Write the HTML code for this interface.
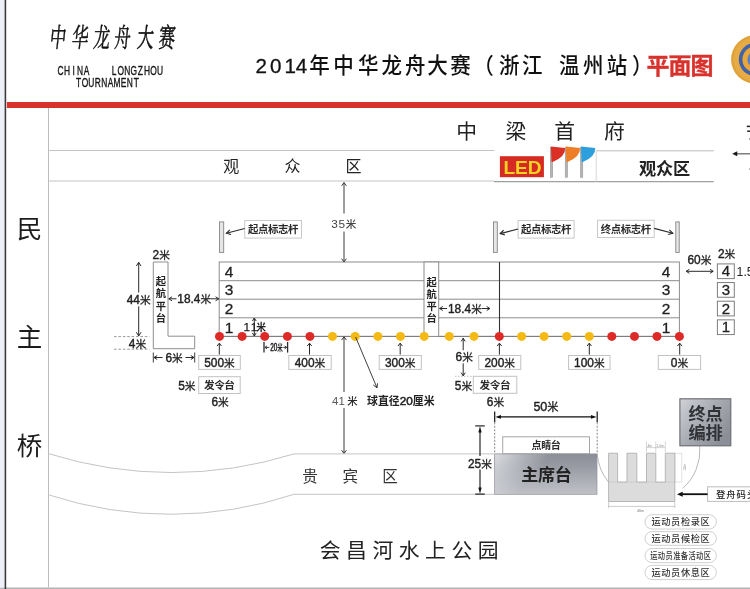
<!DOCTYPE html>
<html lang="zh"><head><meta charset="utf-8"><title>2014年中华龙舟大赛（浙江 温州站）平面图</title><style>html,body{margin:0;padding:0;background:#fff;overflow:hidden}body{width:750px;height:589px;font-family:"Liberation Sans","Noto Sans CJK SC",sans-serif}svg{display:block;will-change:transform}</style></head><body><svg width="750" height="589" viewBox="0 0 750 589" font-family="'Liberation Sans', 'Noto Sans CJK SC', sans-serif"><rect x="0" y="0" width="750" height="589" fill="#fff"/>
<rect x="0" y="587.5" width="750" height="1.5" fill="#b4b4b4"/>
<rect x="0" y="0" width="4.6" height="587.5" fill="#edeff9"/>
<rect x="4.6" y="0" width="1.6" height="589" fill="#3a3a3e"/>
<rect x="6.9" y="102" width="743.1" height="6" fill="#d8322d"/>
<g transform="translate(57.1,46.8) scale(0.62,1) skewX(-9)" fill="#111" stroke="#111" stroke-width="0.55"><text x="0" y="0" font-size="26.5" text-anchor="middle" font-family="'Liberation Serif', 'Noto Serif CJK SC', serif">中</text></g>
<g transform="translate(79.5,46.8) scale(0.62,1) skewX(-9)" fill="#111" stroke="#111" stroke-width="0.55"><text x="0" y="0" font-size="26.5" text-anchor="middle" font-family="'Liberation Serif', 'Noto Serif CJK SC', serif">华</text></g>
<g transform="translate(101,46.8) scale(0.62,1) skewX(-9)" fill="#111" stroke="#111" stroke-width="0.55"><text x="0" y="0" font-size="26.5" text-anchor="middle" font-family="'Liberation Serif', 'Noto Serif CJK SC', serif">龙</text></g>
<g transform="translate(121.7,46.8) scale(0.62,1) skewX(-9)" fill="#111" stroke="#111" stroke-width="0.55"><text x="0" y="0" font-size="26.5" text-anchor="middle" font-family="'Liberation Serif', 'Noto Serif CJK SC', serif">舟</text></g>
<g transform="translate(144.8,46.8) scale(0.62,1) skewX(-9)" fill="#111" stroke="#111" stroke-width="0.55"><text x="0" y="0" font-size="26.5" text-anchor="middle" font-family="'Liberation Serif', 'Noto Serif CJK SC', serif">大</text></g>
<g transform="translate(166.2,46.8) scale(0.62,1) skewX(-9)" fill="#111" stroke="#111" stroke-width="0.55"><text x="0" y="0" font-size="26.5" text-anchor="middle" font-family="'Liberation Serif', 'Noto Serif CJK SC', serif">赛</text></g>
<title>中华龙舟大赛</title>
<g fill="#151515" stroke="#151515" stroke-width="0.35" font-size="12" text-anchor="middle"><title>CHINA</title><text transform="translate(60.48,74.7) scale(0.7,1)">C</text><text transform="translate(67.03,74.7) scale(0.7,1)">H</text><text transform="translate(73.58,74.7) scale(0.7,1)">I</text><text transform="translate(80.12,74.7) scale(0.7,1)">N</text><text transform="translate(86.67,74.7) scale(0.7,1)">A</text></g>
<g fill="#151515" stroke="#151515" stroke-width="0.35" font-size="12" text-anchor="middle"><title>LONGZHOU</title><text transform="translate(114.18,74.7) scale(0.7,1)">L</text><text transform="translate(120.73,74.7) scale(0.7,1)">O</text><text transform="translate(127.28,74.7) scale(0.7,1)">N</text><text transform="translate(133.83,74.7) scale(0.7,1)">G</text><text transform="translate(140.38,74.7) scale(0.7,1)">Z</text><text transform="translate(146.93,74.7) scale(0.7,1)">H</text><text transform="translate(153.47,74.7) scale(0.7,1)">O</text><text transform="translate(160.03,74.7) scale(0.7,1)">U</text></g>
<g fill="#151515" stroke="#151515" stroke-width="0.35" font-size="12" text-anchor="middle"><title>TOURNAMENT</title><text transform="translate(78.51,86.7) scale(0.7,1)">T</text><text transform="translate(84.93,86.7) scale(0.7,1)">O</text><text transform="translate(91.35,86.7) scale(0.7,1)">U</text><text transform="translate(97.77,86.7) scale(0.7,1)">R</text><text transform="translate(104.19,86.7) scale(0.7,1)">N</text><text transform="translate(110.61,86.7) scale(0.7,1)">A</text><text transform="translate(117.03,86.7) scale(0.7,1)">M</text><text transform="translate(123.45,86.7) scale(0.7,1)">E</text><text transform="translate(129.87,86.7) scale(0.7,1)">N</text><text transform="translate(136.29,86.7) scale(0.7,1)">T</text></g>
<text x="255.5 270 284.6 295.7" y="72.6" font-size="20.6" fill="#111" stroke="#111" stroke-width="0.3">2014</text>
<g transform="translate(0,73) scale(1,1.08)" fill="#111" font-size="20.5" font-weight="500"><text x="309.2 333.2 357.9 381.4 404.9 427.2 450.2 473.2 498.9 522.1" y="0">年中华龙舟大赛（浙江</text><text x="558.9 582.9 606.7 632" y="0">温州站）</text></g>
<title>2014年中华龙舟大赛（浙江 温州站）平面图</title>
<g transform="translate(646.6,73.9)" fill="#d8322d" stroke="#d8322d" stroke-width="0.35"><text x="0 21.9 43.8" y="0" font-size="23" font-weight="bold">平面图</text></g>
<g><circle cx="755.4" cy="59.4" r="24.3" fill="#dfa23a"/><circle cx="755.4" cy="59.4" r="22" fill="#e6ab45"/><circle cx="755.4" cy="59.4" r="16.6" fill="#3f62a8"/><circle cx="755.4" cy="59.4" r="13" fill="#e9a63a"/><circle cx="755.4" cy="59.4" r="8" fill="#5c7fc4"/></g>
<path d="M48.5 108L48.5 587.5" stroke="#bdbdbd" stroke-width="1" fill="none"/>
<path d="M48.5 150.5L494.5 150.5" stroke="#c4c4c4" stroke-width="1" fill="none"/>
<path d="M48.5 181L494.5 181" stroke="#c4c4c4" stroke-width="1" fill="none"/>
<path d="M494 181.6L713.7 181.6" stroke="#a0a0a0" stroke-width="1.1" fill="none"/>
<path d="M596.2 150.8L713.7 150.8" stroke="#bcbcbc" stroke-width="1" fill="none"/>
<path d="M596.2 150.7L596.2 181.8" stroke="#d8d8d8" stroke-width="1" fill="none"/>
<text x="223.3 284.4 345.4" y="172.3" font-size="16" fill="#222">观众区</text>
<title>观众区</title>
<text x="456.3 505.6 554.3 604.1" y="139.3" font-size="20.8" fill="#222">中梁首府</text>
<title>中梁首府</title>
<path d="M746.8 126.4L750 126.4" stroke="#222" stroke-width="1.5" fill="none"/>
<path d="M747.2 131.2L750 131.2" stroke="#222" stroke-width="1.5" fill="none"/>
<path d="M749 139L750 139" stroke="#555" stroke-width="1.2" fill="none"/>
<path d="M749 169L750 169" stroke="#777" stroke-width="1.2" fill="none"/>
<rect x="499.9" y="156.2" width="44" height="21" fill="#d62b22" />
<text x="503.4" y="174.2" font-size="18.4" font-weight="bold" fill="#f6d322" textLength="38.2" lengthAdjust="spacingAndGlyphs">LED</text>
<rect x="550.3" y="147.2" width="2.4" height="30.1" fill="#b5b5b5" stroke="#909090" stroke-width="0.5" /><path d="M550.9 146.6 L565.2 148 Q565.7 156.5,552.7 162 L551.5 162Z" fill="#dc2f25"/>
<rect x="565.2" y="147.2" width="2.4" height="30.1" fill="#b5b5b5" stroke="#909090" stroke-width="0.5" /><path d="M565.8 146.6 L580.1 148 Q580.6 156.5,567.6 162 L566.4 162Z" fill="#ee7d28"/>
<rect x="580.4" y="147.2" width="2.4" height="30.1" fill="#b5b5b5" stroke="#909090" stroke-width="0.5" /><path d="M581 146.6 L595.3 148 Q595.8 156.5,582.8 162 L581.6 162Z" fill="#2d9fdc"/>
<g transform="translate(639,174.6)" fill="#222"><title>观众区</title><text x="0 17 34" y="0" font-size="17.2" font-weight="bold">观众区</text></g>
<path d="M735 153.8L750 153.8" stroke="#6a6a6a" stroke-width="1.3" fill="none"/>
<path d="M737.23 151.35L732.2 153.8L737.23 156.25Z" fill="#1a1a1a"/>
<rect x="219.5" y="221.9" width="4.2" height="30.5" fill="#e6e6e6" stroke="#858585" stroke-width="0.9" />
<rect x="493.5" y="221.9" width="3.8" height="30.5" fill="#e6e6e6" stroke="#858585" stroke-width="0.9" />
<rect x="675.8" y="221.9" width="3.4" height="30.5" fill="#e6e6e6" stroke="#858585" stroke-width="0.9" />
<rect x="244.7" y="220.5" width="56.8" height="17.6" fill="#fff" stroke="#c9c9c9" stroke-width="1" /><g transform="translate(273.1,233.04)" fill="#2b2b2b"><title>起点标志杆</title><text x="-25.2 -15.2 -5.2 4.8 14.8" y="0" font-size="10.4" font-weight="bold">起点标志杆</text></g>
<path d="M244.7 228.5L226.4 233.3" stroke="#2a2a2a" stroke-width="1.1" fill="none"/><path d="M229.81 229.92L226.4 233.3L231.03 234.57" fill="none" stroke="#2a2a2a" stroke-width="1.1"/>
<rect x="518.1" y="220.5" width="56" height="17.6" fill="#fff" stroke="#c9c9c9" stroke-width="1" /><g transform="translate(546.1,233.04)" fill="#2b2b2b"><title>起点标志杆</title><text x="-25.2 -15.2 -5.2 4.8 14.8" y="0" font-size="10.4" font-weight="bold">起点标志杆</text></g>
<path d="M518.1 229L500.2 233.6" stroke="#2a2a2a" stroke-width="1.1" fill="none"/><path d="M503.63 230.24L500.2 233.6L504.82 234.89" fill="none" stroke="#2a2a2a" stroke-width="1.1"/>
<rect x="597.5" y="220.3" width="56.7" height="17.2" fill="#fff" stroke="#c9c9c9" stroke-width="1" /><g transform="translate(625.85,232.64)" fill="#2b2b2b"><title>终点标志杆</title><text x="-25.2 -15.2 -5.2 4.8 14.8" y="0" font-size="10.4" font-weight="bold">终点标志杆</text></g>
<path d="M654.2 228.4L672.8 233.2" stroke="#2a2a2a" stroke-width="1.1" fill="none"/><path d="M668.18 234.49L672.8 233.2L669.37 229.84" fill="none" stroke="#2a2a2a" stroke-width="1.1"/>
<rect x="219.2" y="262" width="460.2" height="74.4" fill="#fff" stroke="#8c8c8c" stroke-width="1" />
<path d="M219.2 280.7L679.4 280.7" stroke="#8c8c8c" stroke-width="1" fill="none"/>
<path d="M219.2 299.2L679.4 299.2" stroke="#8c8c8c" stroke-width="1" fill="none"/>
<path d="M219.2 317.8L679.4 317.8" stroke="#8c8c8c" stroke-width="1" fill="none"/>
<path d="M219.2 336.4L679.4 336.4" stroke="#7c7c7c" stroke-width="1" fill="none"/>
<rect x="424" y="262" width="14.7" height="74.4" fill="#fff" stroke="#8c8c8c" stroke-width="1" />
<g fill="#222"><title>起航平台</title><text x="426.45 426.45 426.45 426.45" y="285.86 298.06 310.26 322.46" font-size="10.3" font-weight="bold">起航平台</text></g>
<path d="M499.5 262L499.5 336.4" stroke="#333" stroke-width="1.1" fill="none"/>
<text x="224.8" y="276.8" font-size="15.4" fill="#222" stroke="#222" stroke-width="0.3">4</text>
<text x="661.8" y="276.8" font-size="15.4" fill="#222" stroke="#222" stroke-width="0.3">4</text>
<text x="224.8" y="295.4" font-size="15.4" fill="#222" stroke="#222" stroke-width="0.3">3</text>
<text x="661.8" y="295.4" font-size="15.4" fill="#222" stroke="#222" stroke-width="0.3">3</text>
<text x="224.8" y="314" font-size="15.4" fill="#222" stroke="#222" stroke-width="0.3">2</text>
<text x="661.8" y="314" font-size="15.4" fill="#222" stroke="#222" stroke-width="0.3">2</text>
<text x="224.8" y="332.6" font-size="15.4" fill="#222" stroke="#222" stroke-width="0.3">1</text>
<text x="661.8" y="332.6" font-size="15.4" fill="#222" stroke="#222" stroke-width="0.3">1</text>
<circle cx="219.5" cy="336.4" r="4.5" fill="#dd2a27"/>
<circle cx="242.1" cy="336.4" r="4.5" fill="#dd2a27"/>
<circle cx="264.7" cy="336.4" r="4.5" fill="#dd2a27"/>
<circle cx="287.4" cy="336.4" r="4.5" fill="#dd2a27"/>
<circle cx="309.9" cy="336.4" r="4.5" fill="#dd2a27"/>
<circle cx="332.5" cy="336.4" r="4.5" fill="#f4b912"/>
<circle cx="355.2" cy="336.4" r="4.5" fill="#f4b912"/>
<circle cx="377.9" cy="336.4" r="4.5" fill="#f4b912"/>
<circle cx="400.5" cy="336.4" r="4.5" fill="#f4b912"/>
<circle cx="424.2" cy="336.4" r="4.5" fill="#f4b912"/>
<circle cx="449.3" cy="336.4" r="4.5" fill="#f4b912"/>
<circle cx="474" cy="336.4" r="4.5" fill="#f4b912"/>
<circle cx="499.3" cy="336.4" r="4.5" fill="#dd2a27"/>
<circle cx="521.6" cy="336.4" r="4.5" fill="#f4b912"/>
<circle cx="544.1" cy="336.4" r="4.5" fill="#f4b912"/>
<circle cx="566.7" cy="336.4" r="4.5" fill="#f4b912"/>
<circle cx="589.3" cy="336.4" r="4.5" fill="#f4b912"/>
<circle cx="611.8" cy="336.4" r="4.5" fill="#dd2a27"/>
<circle cx="634.5" cy="336.4" r="4.5" fill="#dd2a27"/>
<circle cx="657" cy="336.4" r="4.5" fill="#dd2a27"/>
<circle cx="679.4" cy="336.4" r="4.5" fill="#dd2a27"/>
<path d="M153.3 262H168V336.2H194.7V348.7H153.3Z" fill="#fff" stroke="#8e8e8e" stroke-width="1"/>
<g fill="#222"><title>起航平台</title><text x="155.85 155.85 155.85 155.85" y="284.86 297.36 309.86 322.36" font-size="10.3" font-weight="bold">起航平台</text></g>
<g transform="translate(152.6,258.6)" fill="#222" stroke="#222" stroke-width="0.3"><title>2米</title><text x="0" y="0" font-size="11.9" stroke="#222" stroke-width="0.4" xml:space="preserve">2</text><text x="6.62" y="0" font-size="10.7">米</text></g>
<g transform="translate(126.7,304.3)" fill="#222" stroke="#222" stroke-width="0.3"><title>44米</title><text x="0" y="0" font-size="11.9" stroke="#222" stroke-width="0.4" xml:space="preserve">44</text><text x="13.24" y="0" font-size="10.7">米</text></g>
<path d="M138.7 292.5L138.7 262.3" stroke="#2a2a2a" stroke-width="1" fill="none"/><path d="M141.03 266.03L138.7 262.3L136.37 266.03" fill="none" stroke="#2a2a2a" stroke-width="1"/>
<path d="M138.7 306.3L138.7 336" stroke="#2a2a2a" stroke-width="1" fill="none"/><path d="M136.37 332.27L138.7 336L141.03 332.27" fill="none" stroke="#2a2a2a" stroke-width="1"/>
<path d="M114 336.6L149.5 336.6" stroke="#9a9a9a" stroke-width="1" fill="none" stroke-dasharray="2.6 1.8"/>
<path d="M114 349.2L149.5 349.2" stroke="#9a9a9a" stroke-width="1" fill="none" stroke-dasharray="2.6 1.8"/>
<g transform="translate(128.8,347.6)" fill="#222" stroke="#222" stroke-width="0.3"><title>4米</title><text x="0" y="0" font-size="11.9" stroke="#222" stroke-width="0.4" xml:space="preserve">4</text><text x="6.62" y="0" font-size="10.7">米</text></g>
<g transform="translate(177.3,303.3)" fill="#222" stroke="#222" stroke-width="0.3"><title>18.4米</title><text x="0" y="0" font-size="11.9" stroke="#222" stroke-width="0.4" xml:space="preserve">18.4</text><text x="23.16" y="0" font-size="10.7">米</text></g>
<path d="M176.5 298.8L168.8 298.8" stroke="#2a2a2a" stroke-width="1" fill="none"/><path d="M172.02 296.79L168.8 298.8L172.02 300.81" fill="none" stroke="#2a2a2a" stroke-width="1"/>
<path d="M211 298.8L218.8 298.8" stroke="#2a2a2a" stroke-width="1" fill="none"/><path d="M215.58 300.81L218.8 298.8L215.58 296.79" fill="none" stroke="#2a2a2a" stroke-width="1"/>
<path d="M153.3 352.5L153.3 362.5" stroke="#2a2a2a" stroke-width="0.9" fill="none"/>
<path d="M194.7 352.5L194.7 362.5" stroke="#2a2a2a" stroke-width="0.9" fill="none"/>
<path d="M162.5 357.5L154 357.5" stroke="#2a2a2a" stroke-width="1" fill="none"/><path d="M157.22 355.49L154 357.5L157.22 359.51" fill="none" stroke="#2a2a2a" stroke-width="1"/>
<path d="M185.5 357.5L194 357.5" stroke="#2a2a2a" stroke-width="1" fill="none"/><path d="M190.78 359.51L194 357.5L190.78 355.49" fill="none" stroke="#2a2a2a" stroke-width="1"/>
<g transform="translate(165.4,362.2)" fill="#222" stroke="#222" stroke-width="0.3"><title>6米</title><text x="0" y="0" font-size="11.9" stroke="#222" stroke-width="0.4" xml:space="preserve">6</text><text x="6.62" y="0" font-size="10.7">米</text></g>
<path d="M254.3 318L254.3 336" stroke="#2a2a2a" stroke-width="1" fill="none"/><path d="M252.39 332.95L254.3 336L256.21 332.95" fill="none" stroke="#2a2a2a" stroke-width="1"/><path d="M256.21 321.05L254.3 318L252.39 321.05" fill="none" stroke="#2a2a2a" stroke-width="1"/>
<g transform="translate(243.4,330.9)" fill="#222"><text x="0" y="0" font-size="11.8" letter-spacing="1.7" stroke="#222" stroke-width="0.25" xml:space="preserve">11</text></g>
<g transform="translate(256.2,330.8)" fill="#222"><text x="0" y="0" font-size="9.8" font-weight="bold">米</text></g>
<title>11米</title>
<path d="M264 342L264 352.6" stroke="#2a2a2a" stroke-width="1.3" fill="none"/>
<path d="M287.6 342L287.6 352.6" stroke="#2a2a2a" stroke-width="1.3" fill="none"/>
<path d="M269.3 347.4L264.9 347.4" stroke="#2a2a2a" stroke-width="0.9" fill="none"/><path d="M267.03 345.91L264.9 347.4L267.03 348.89" fill="none" stroke="#2a2a2a" stroke-width="0.9"/>
<path d="M283.2 347.4L286.8 347.4" stroke="#2a2a2a" stroke-width="0.9" fill="none"/><path d="M284.67 348.89L286.8 347.4L284.67 345.91" fill="none" stroke="#2a2a2a" stroke-width="0.9"/>
<g transform="translate(276.5,351.4) scale(0.62,1)" fill="#222"><title>20米</title><text x="-10.28" y="0" font-size="10.4" stroke="#222" stroke-width="0.5" xml:space="preserve">20</text><text x="1.28" y="0" font-size="9" font-weight="bold">米</text></g>
<rect x="198.7" y="355.5" width="41.6" height="13.9" fill="#fff" stroke="#c2c2c2" stroke-width="1" /><g transform="translate(219.5,366.9)" fill="#222" stroke="#222" stroke-width="0.3"><title>500米</title><text x="-15.28" y="0" font-size="11.9" stroke="#222" stroke-width="0.4" xml:space="preserve">500</text><text x="4.58" y="0" font-size="10.7">米</text></g><path d="M219.3 354.6L219.3 343.2" stroke="#2a2a2a" stroke-width="1" fill="none"/><path d="M221.52 346.04L219.3 343.2L217.08 346.04" fill="none" stroke="#2a2a2a" stroke-width="1"/>
<rect x="288.8" y="355.5" width="42.4" height="13.9" fill="#fff" stroke="#c2c2c2" stroke-width="1" /><g transform="translate(310,366.9)" fill="#222" stroke="#222" stroke-width="0.3"><title>400米</title><text x="-15.28" y="0" font-size="11.9" stroke="#222" stroke-width="0.4" xml:space="preserve">400</text><text x="4.58" y="0" font-size="10.7">米</text></g><path d="M309.5 354.6L309.5 343.2" stroke="#2a2a2a" stroke-width="1" fill="none"/><path d="M311.72 346.04L309.5 343.2L307.28 346.04" fill="none" stroke="#2a2a2a" stroke-width="1"/>
<rect x="379.2" y="355.5" width="42.1" height="13.9" fill="#fff" stroke="#c2c2c2" stroke-width="1" /><g transform="translate(400.25,366.9)" fill="#222" stroke="#222" stroke-width="0.3"><title>300米</title><text x="-15.28" y="0" font-size="11.9" stroke="#222" stroke-width="0.4" xml:space="preserve">300</text><text x="4.58" y="0" font-size="10.7">米</text></g><path d="M400.2 354.6L400.2 343.2" stroke="#2a2a2a" stroke-width="1" fill="none"/><path d="M402.42 346.04L400.2 343.2L397.98 346.04" fill="none" stroke="#2a2a2a" stroke-width="1"/>
<rect x="478.7" y="355.5" width="42.1" height="13.9" fill="#fff" stroke="#c2c2c2" stroke-width="1" /><g transform="translate(499.75,366.9)" fill="#222" stroke="#222" stroke-width="0.3"><title>200米</title><text x="-15.28" y="0" font-size="11.9" stroke="#222" stroke-width="0.4" xml:space="preserve">200</text><text x="4.58" y="0" font-size="10.7">米</text></g><path d="M499.4 354.6L499.4 343.2" stroke="#2a2a2a" stroke-width="1" fill="none"/><path d="M501.62 346.04L499.4 343.2L497.18 346.04" fill="none" stroke="#2a2a2a" stroke-width="1"/>
<rect x="568.6" y="355.5" width="41.4" height="13.9" fill="#fff" stroke="#c2c2c2" stroke-width="1" /><g transform="translate(589.3,366.9)" fill="#222" stroke="#222" stroke-width="0.3"><title>100米</title><text x="-15.28" y="0" font-size="11.9" stroke="#222" stroke-width="0.4" xml:space="preserve">100</text><text x="4.58" y="0" font-size="10.7">米</text></g><path d="M589.3 354.6L589.3 343.2" stroke="#2a2a2a" stroke-width="1" fill="none"/><path d="M591.52 346.04L589.3 343.2L587.08 346.04" fill="none" stroke="#2a2a2a" stroke-width="1"/>
<rect x="658.3" y="355.5" width="42.3" height="13.9" fill="#fff" stroke="#c2c2c2" stroke-width="1" /><g transform="translate(679.45,366.9)" fill="#222" stroke="#222" stroke-width="0.3"><title>0米</title><text x="-8.66" y="0" font-size="11.9" stroke="#222" stroke-width="0.4" xml:space="preserve">0</text><text x="-2.04" y="0" font-size="10.7">米</text></g><path d="M679.7 354.6L679.7 343.2" stroke="#2a2a2a" stroke-width="1" fill="none"/><path d="M681.92 346.04L679.7 343.2L677.48 346.04" fill="none" stroke="#2a2a2a" stroke-width="1"/>
<rect x="198.7" y="376.7" width="41.5" height="16.8" fill="#fff" stroke="#c2c2c2" stroke-width="1" /><g transform="translate(219.45,388.92)" fill="#2b2b2b"><title>发令台</title><text x="-15.5 -5.3 4.9" y="0" font-size="10.6" font-weight="bold">发令台</text></g>
<g transform="translate(178.2,390.2)" fill="#222" stroke="#222" stroke-width="0.3"><title>5米</title><text x="0" y="0" font-size="11.9" stroke="#222" stroke-width="0.4" xml:space="preserve">5</text><text x="6.62" y="0" font-size="10.7">米</text></g>
<g transform="translate(211.4,405.6)" fill="#222" stroke="#222" stroke-width="0.3"><title>6米</title><text x="0" y="0" font-size="11.9" stroke="#222" stroke-width="0.4" xml:space="preserve">6</text><text x="6.62" y="0" font-size="10.7">米</text></g>
<rect x="473.3" y="376.3" width="43.5" height="17" fill="#fff" stroke="#c2c2c2" stroke-width="1" /><g transform="translate(495.05,388.62)" fill="#2b2b2b"><title>发令台</title><text x="-15.5 -5.3 4.9" y="0" font-size="10.6" font-weight="bold">发令台</text></g>
<g transform="translate(454.8,390.2)" fill="#222" stroke="#222" stroke-width="0.3"><title>5米</title><text x="0" y="0" font-size="11.9" stroke="#222" stroke-width="0.4" xml:space="preserve">5</text><text x="6.62" y="0" font-size="10.7">米</text></g>
<g transform="translate(486.8,405.6)" fill="#222" stroke="#222" stroke-width="0.3"><title>6米</title><text x="0" y="0" font-size="11.9" stroke="#222" stroke-width="0.4" xml:space="preserve">6</text><text x="6.62" y="0" font-size="10.7">米</text></g>
<g transform="translate(455.6,361.3)" fill="#222" stroke="#222" stroke-width="0.3"><title>6米</title><text x="0" y="0" font-size="11.9" stroke="#222" stroke-width="0.4" xml:space="preserve">6</text><text x="6.62" y="0" font-size="10.7">米</text></g>
<path d="M463.2 350.2L463.2 338.2" stroke="#2a2a2a" stroke-width="1" fill="none"/><path d="M465.21 341.42L463.2 338.2L461.19 341.42" fill="none" stroke="#2a2a2a" stroke-width="1"/>
<path d="M463.2 363.3L463.2 375.9" stroke="#2a2a2a" stroke-width="1" fill="none"/><path d="M461.19 372.68L463.2 375.9L465.21 372.68" fill="none" stroke="#2a2a2a" stroke-width="1"/>
<path d="M455 376.3L473.3 376.3" stroke="#aaa" stroke-width="0.8" fill="none" stroke-dasharray="1.5 1.5"/>
<g transform="translate(448,312.8)" fill="#222" stroke="#222" stroke-width="0.3"><title>18.4米</title><text x="0" y="0" font-size="11.9" stroke="#222" stroke-width="0.4" xml:space="preserve">18.4</text><text x="23.16" y="0" font-size="10.7">米</text></g>
<path d="M447 308.5L439.6 308.5" stroke="#2a2a2a" stroke-width="1" fill="none"/><path d="M442.82 306.49L439.6 308.5L442.82 310.51" fill="none" stroke="#2a2a2a" stroke-width="1"/>
<path d="M482 308.5L489.9 308.5" stroke="#2a2a2a" stroke-width="1" fill="none"/><path d="M486.68 310.51L489.9 308.5L486.68 306.49" fill="none" stroke="#2a2a2a" stroke-width="1"/>
<path d="M344 213.5L344 182.6" stroke="#3a3a3a" stroke-width="1" fill="none"/><path d="M346.35 185.84L344 182.6L341.65 185.84" fill="none" stroke="#3a3a3a" stroke-width="1"/>
<path d="M344 231.5L344 261.9" stroke="#3a3a3a" stroke-width="1" fill="none"/><path d="M341.65 258.66L344 261.9L346.35 258.66" fill="none" stroke="#3a3a3a" stroke-width="1"/>
<g transform="translate(331.3,228.2)" fill="#444"><title>35米</title><text x="0" y="0" font-size="11.8" letter-spacing="0.7" xml:space="preserve">35</text><text x="14.53" y="0" font-size="10.6" font-weight="500">米</text></g>
<path d="M344 392L344 336.8" stroke="#3a3a3a" stroke-width="1" fill="none"/><path d="M346.35 340.04L344 336.8L341.65 340.04" fill="none" stroke="#3a3a3a" stroke-width="1"/>
<path d="M344 408L344 453.5" stroke="#3a3a3a" stroke-width="1" fill="none"/><path d="M341.65 450.26L344 453.5L346.35 450.26" fill="none" stroke="#3a3a3a" stroke-width="1"/>
<g transform="translate(332,404.7)" fill="#555"><title>41</title><text x="0" y="0" font-size="11.3" letter-spacing="0.3" xml:space="preserve">41</text></g>
<g transform="translate(347.2,404.6)" fill="#2a2a2a"><text x="0" y="0" font-size="10.4" font-weight="500">米</text></g>
<path d="M355.6 337L377 387.8" stroke="#2a2a2a" stroke-width="0.9" fill="none"/><path d="M373.33 385.02L377 387.8L377.57 383.24" fill="none" stroke="#2a2a2a" stroke-width="0.9"/>
<g transform="translate(367,404.8)" fill="#222"><title>球直径20厘米</title><text x="0 10.9 21.8" y="0" font-size="10.9" font-weight="bold">球直径</text><text x="32.7" y="0" font-size="11.8" stroke="#222" stroke-width="0.5" xml:space="preserve">20</text><text x="45.83 56.73" y="0" font-size="10.9" font-weight="bold">厘米</text></g>
<path d="M48.5 453.6 A410 410 0 0 0 294 453.9 H494.7" fill="none" stroke="#c4c4c4" stroke-width="1"/>
<path d="M48.5 494.8 A392 392 0 0 0 294 494.3 H494.7" fill="none" stroke="#c4c4c4" stroke-width="1"/>
<text x="302.2 342.6 382.2" y="482" font-size="15.6" fill="#333">贵宾区</text>
<title>贵宾区</title>
<defs><linearGradient id="gs" x1="0" y1="0" x2="0" y2="1"><stop offset="0" stop-color="#8b8e96"/><stop offset="0.35" stop-color="#9a9da5"/><stop offset="1" stop-color="#c0c2c7"/></linearGradient><linearGradient id="gs2" x1="0" y1="0" x2="1" y2="0.35"><stop offset="0" stop-color="#dfe1e5" stop-opacity="0.95"/><stop offset="0.5" stop-color="#dfe1e5" stop-opacity="0"/></linearGradient><linearGradient id="gf" x1="0" y1="0" x2="1" y2="0.7"><stop offset="0" stop-color="#d0d2d7"/><stop offset="0.5" stop-color="#a9acb3"/><stop offset="1" stop-color="#8b8e96"/></linearGradient></defs>
<rect x="494.7" y="453.9" width="102.3" height="40.4" fill="url(#gs)" />
<rect x="494.7" y="453.9" width="102.3" height="40.4" fill="url(#gs2)" stroke="#8f9298" stroke-width="0.7" />
<g transform="translate(521.3,481.4)" fill="#222"><title>主席台</title><text x="0 16.7 33.4" y="0" font-size="17" font-weight="bold">主席台</text></g>
<rect x="502.7" y="436.8" width="86.8" height="16.8" fill="#fff" stroke="#a6a6a6" stroke-width="1" />
<g transform="translate(546.2,449.4)" fill="#2b2b2b"><title>点睛台</title><text x="-14.6 -5 4.6" y="0" font-size="10" font-weight="bold">点睛台</text></g>
<path d="M494.7 411.5L494.7 422.3" stroke="#111" stroke-width="1.2" fill="none"/>
<path d="M597.2 411.5L597.2 422.3" stroke="#111" stroke-width="1.2" fill="none"/>
<path d="M494.7 422.3L494.7 453.6" stroke="#666" stroke-width="0.8" fill="none" stroke-dasharray="2 1.5"/>
<path d="M597.2 422.3L597.2 453.6" stroke="#666" stroke-width="0.8" fill="none" stroke-dasharray="2 1.5"/>
<path d="M498 416.9L594 416.9" stroke="#111" stroke-width="1.3" fill="none"/>
<path d="M500.97 414.95L495.3 416.9L500.97 418.85Z" fill="#111"/>
<path d="M590.93 418.85L596.6 416.9L590.93 414.95Z" fill="#111"/>
<g transform="translate(533.4,411)" fill="#222" stroke="#222" stroke-width="0.3"><title>50米</title><text x="0" y="0" font-size="12.5" stroke="#222" stroke-width="0.4" xml:space="preserve">50</text><text x="13.9" y="0" font-size="11.2">米</text></g>
<path d="M475.2 425.9L484.8 425.9" stroke="#111" stroke-width="1.1" fill="none"/>
<path d="M475.2 494.1L484.8 494.1" stroke="#111" stroke-width="1.1" fill="none"/>
<path d="M480 456L480 430" stroke="#111" stroke-width="1.1" fill="none"/>
<path d="M480 469.5L480 490" stroke="#111" stroke-width="1.1" fill="none"/>
<path d="M481.68 432.58L480 426.3L478.32 432.58Z" fill="#111"/>
<path d="M478.32 487.42L480 493.7L481.68 487.42Z" fill="#111"/>
<g transform="translate(468,467.5)" fill="#222" stroke="#222" stroke-width="0.3"><title>25米</title><text x="0" y="0" font-size="11.9" stroke="#222" stroke-width="0.4" xml:space="preserve">25</text><text x="13.24" y="0" font-size="10.7">米</text></g>
<path d="M597.2 454 A51 51 0 0 0 608.6 482.2" fill="none" stroke="#9a9a9a" stroke-width="0.7"/>
<path d="M699.8 446 A51 51 0 0 1 682.6 488.5" fill="none" stroke="#9a9a9a" stroke-width="0.7"/>
<rect x="675" y="453.2" width="6.8" height="28.8" fill="#fff" stroke="#d6d6d6" stroke-width="0.7" />
<path d="M608.6 453.2H617.6V482.1H627V453.2H636.8V482.1H646.5V453.2H655.8V482.1H665.3V453.2H674.8V501.5H608.6Z" fill="#dcdcdc" stroke="#a9a9a9" stroke-width="0.8"/>
<path d="M608.6 482.1L674.8 482.1" stroke="#c4c4c4" stroke-width="0.6" fill="none"/>
<path d="M608.6 502L608.6 508" stroke="#aaa" stroke-width="0.6" fill="none"/>
<path d="M674.8 502L674.8 508" stroke="#aaa" stroke-width="0.6" fill="none"/>
<path d="M608.6 506.4L674.8 506.4" stroke="#aaa" stroke-width="0.6" fill="none"/>
<text x="637" y="512.3" font-size="3.6" fill="#777">46m</text>
<path d="M646.5 441.5L646.5 452" stroke="#aaa" stroke-width="0.5" fill="none"/>
<path d="M655.8 441.5L655.8 452" stroke="#aaa" stroke-width="0.5" fill="none"/>
<path d="M665.3 441.5L665.3 452" stroke="#aaa" stroke-width="0.5" fill="none"/>
<path d="M646.5 447.6L665.3 447.6" stroke="#aaa" stroke-width="0.5" fill="none"/>
<text x="647.6" y="446.6" font-size="3.2" fill="#888">4m</text><text x="656.6" y="446.6" font-size="3.2" fill="#888">1.0m</text>
<text transform="translate(686,470) rotate(-90)" font-size="3.2" fill="#888">32m</text>
<rect x="679.9" y="398.8" width="50.9" height="47" fill="url(#gf)" stroke="#66686e" stroke-width="1.1" />
<g transform="translate(688.6,420)" fill="#303236"><text x="0 16.8" y="0" font-size="17.2" font-weight="bold">终点</text></g>
<g transform="translate(688.6,439)" fill="#303236"><text x="0 16.8" y="0" font-size="17.2" font-weight="bold">编排</text></g>
<title>终点编排</title>
<rect x="707.6" y="486.8" width="52.4" height="14.6" fill="#fff" stroke="#bdbdbd" stroke-width="1" />
<g transform="translate(716,498.2)" fill="#222"><title>登舟码头</title><text x="0 10.3 20.6 30.9" y="0" font-size="9.4" font-weight="500">登舟码头</text></g>
<path d="M682 494.2L707.6 494.2" stroke="#111" stroke-width="1.8" fill="none"/>
<path d="M682.66 491.68L677 494.2L682.66 496.72Z" fill="#111"/>
<rect x="645" y="514.7" width="71.4" height="14.3" fill="#fff" stroke="#cbcbcb" stroke-width="0.9" rx="7.15" />
<g transform="translate(680.6,525.25)" fill="#333"><title>运动员检录区</title><text x="-29.23 -19.38 -9.53 0.32 10.17 20.02" y="0" font-size="9.2" font-weight="500">运动员检录区</text></g>
<rect x="645" y="531.6" width="71.4" height="13.7" fill="#fff" stroke="#cbcbcb" stroke-width="0.9" rx="6.85" />
<g transform="translate(680.6,541.85)" fill="#333"><title>运动员候检区</title><text x="-29.23 -19.38 -9.53 0.32 10.17 20.02" y="0" font-size="9.2" font-weight="500">运动员候检区</text></g>
<rect x="645" y="548.5" width="71.4" height="14.2" fill="#fff" stroke="#cbcbcb" stroke-width="0.9" rx="7.1" />
<g transform="translate(680.6,559) scale(0.79,1)" fill="#333"><title>运动员准备活动区</title><text x="-38.55 -28.85 -19.15 -9.45 0.25 9.95 19.65 29.35" y="0" font-size="9.2" font-weight="500">运动员准备活动区</text></g>
<rect x="645" y="565.4" width="71.4" height="14.2" fill="#fff" stroke="#cbcbcb" stroke-width="0.9" rx="7.1" />
<g transform="translate(680.6,575.9)" fill="#333"><title>运动员休息区</title><text x="-29.23 -19.38 -9.53 0.32 10.17 20.02" y="0" font-size="9.2" font-weight="500">运动员休息区</text></g>
<g transform="translate(687.4,264.3)" fill="#222" stroke="#222" stroke-width="0.3"><title>60米</title><text x="0" y="0" font-size="11.9" stroke="#222" stroke-width="0.4" xml:space="preserve">60</text><text x="13.24" y="0" font-size="10.7">米</text></g>
<path d="M686.2 271.3L713.2 271.3" stroke="#2a2a2a" stroke-width="1" fill="none"/><path d="M709.98 273.31L713.2 271.3L709.98 269.29" fill="none" stroke="#2a2a2a" stroke-width="1"/><path d="M689.42 269.29L686.2 271.3L689.42 273.31" fill="none" stroke="#2a2a2a" stroke-width="1"/>
<g transform="translate(718,258.4)" fill="#222" stroke="#222" stroke-width="0.3"><title>2米</title><text x="0" y="0" font-size="11.9" stroke="#222" stroke-width="0.4" xml:space="preserve">2</text><text x="6.62" y="0" font-size="10.7">米</text></g>
<rect x="717.4" y="263.9" width="16.9" height="14.7" fill="#fff" stroke="#7e7e7e" stroke-width="1" />
<text x="725.9" y="276.4" font-size="15" fill="#222" stroke="#222" stroke-width="0.3" text-anchor="middle">4</text>
<rect x="717.4" y="282.55" width="16.9" height="14.7" fill="#fff" stroke="#7e7e7e" stroke-width="1" />
<text x="725.9" y="295.05" font-size="15" fill="#222" stroke="#222" stroke-width="0.3" text-anchor="middle">3</text>
<rect x="717.4" y="301.2" width="16.9" height="14.7" fill="#fff" stroke="#7e7e7e" stroke-width="1" />
<text x="725.9" y="313.7" font-size="15" fill="#222" stroke="#222" stroke-width="0.3" text-anchor="middle">2</text>
<rect x="717.4" y="319.85" width="16.9" height="14.7" fill="#fff" stroke="#7e7e7e" stroke-width="1" />
<text x="725.9" y="332.35" font-size="15" fill="#222" stroke="#222" stroke-width="0.3" text-anchor="middle">1</text>
<text x="736.6" y="276.2" font-size="12.3" fill="#222">1.5</text>
<text x="16.85" y="238.3" font-size="25.5" fill="#1c1c1c">民</text>
<text x="16.85" y="346" font-size="25.5" fill="#1c1c1c">主</text>
<text x="16.85" y="454.5" font-size="25.5" fill="#1c1c1c">桥</text>
<title>民主桥</title>
<g transform="translate(319.7,558.3)" fill="#222"><title>会昌河水上公园</title><text x="0 26.35 52.7 79.05 105.4 131.75 158.1" y="0" font-size="20.8">会昌河水上公园</text></g></svg></body></html>
